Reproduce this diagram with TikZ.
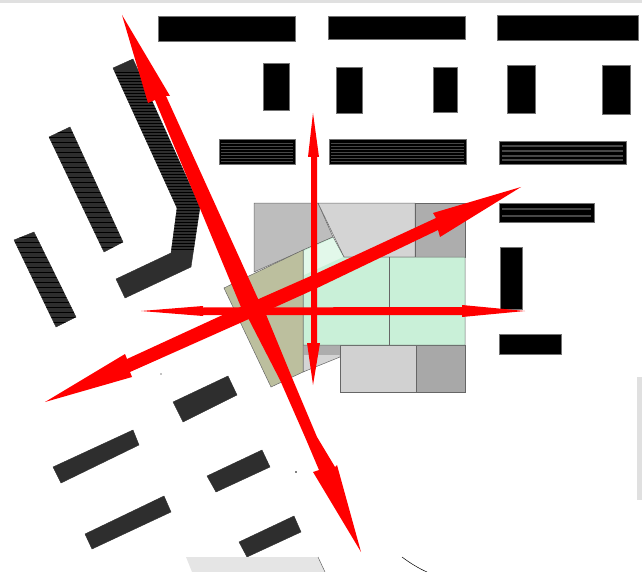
\documentclass[tikz,border=0pt]{standalone}
\usepackage{xcolor}
\definecolor{vert}{HTML}{C9F0D8}
\definecolor{vertclair}{HTML}{E2F8EA}
\definecolor{olive}{HTML}{BCBF9E}
\definecolor{sombre}{HTML}{2E2E2E}
\begin{document}
\begin{tikzpicture}[x=1pt, y=-1pt,
  bloc/.style   = {fill=black, draw=black!55, line width=0.6pt},
  barre/.style  = {fill=sombre, draw=sombre, line width=0.4pt},
  raie/.style   = {draw=black!72, line width=0.8pt},
  trait/.style  = {draw=black, line width=0.8pt},
  dalle/.style  = {draw=black!60, line width=0.5pt},
  fleche/.style = {fill=red}
]
\useasboundingbox (0,0) rectangle (642,572);

% --- bords de la capture ---
\fill[black!12] (0,0) rectangle (642,3);
\fill[black!12] (637,377) rectangle (642,500);

% --- blocs noirs, rangee haute ---
\draw[bloc] (158,16) rectangle (295,41);
\draw[bloc] (328,16) rectangle (465,39);
\draw[bloc] (497,15) rectangle (638,40);
\draw[bloc] (263,63) rectangle (289,110);
\draw[bloc] (336,67) rectangle (362,113);
\draw[bloc] (433,67) rectangle (457,112);
\draw[bloc] (507,65) rectangle (535,113);
\draw[bloc] (602,65) rectangle (630,114);

% --- blocs rayes ---
\draw[bloc] (219,139) rectangle (295,164);
\foreach \y in {143,146,...,161} { \draw[raie] (221,\y) -- (293,\y); }
\draw[bloc] (329,139) rectangle (466,164);
\foreach \y in {143,146,...,161} { \draw[raie] (331,\y) -- (464,\y); }
\draw[bloc] (499,141) rectangle (626,164);
\foreach \y in {146,151,156,160} { \draw[raie, line width=1.5pt] (502,\y) -- (623,\y); }
\draw[bloc] (499,203) rectangle (594,222);
\foreach \y in {209,216} { \draw[raie, line width=2.5pt] (502,\y) -- (591,\y); }

% --- blocs noirs a droite ---
\draw[bloc] (500,247) rectangle (522,309);
\draw[bloc] (499,334) rectangle (561,354);

% --- barres en biais a gauche ---
\fill[barre] (113,68) -- (133,59) -- (200,207) -- (191,267) -- (125,298)
  -- (116,279) -- (171,253) -- (177,208) -- cycle;
\begin{scope}
  \clip (113,68) -- (133,59) -- (200,207) -- (191,267) -- (171,253) -- (177,208) -- cycle;
  \foreach \y in {72,75,...,250} { \draw[trait] (105,\y) -- (205,\y); }
\end{scope}
\fill[barre] (49,137) -- (70,127) -- (123,242) -- (104,252) -- cycle;
\begin{scope}
  \clip (49,137) -- (70,127) -- (123,242) -- (104,252) -- cycle;
  \foreach \y in {132,137,...,247} { \draw[trait] (45,\y) -- (125,\y); }
\end{scope}
\fill[barre] (14,240) -- (34,232) -- (76,317) -- (56,327) -- cycle;
\begin{scope}
  \clip (14,240) -- (34,232) -- (76,317) -- (56,327) -- cycle;
  \foreach \y in {237,242,...,322} { \draw[trait] (10,\y) -- (80,\y); }
\end{scope}

% --- barres en biais en bas ---
\fill[barre] (173,402) -- (228,376) -- (237,395) -- (183,422) -- cycle;
\fill[barre] (53,467) -- (133,430) -- (139,445) -- (61,483) -- cycle;
\fill[barre] (207,476) -- (262,450) -- (270,467) -- (216,492) -- cycle;
\fill[barre] (85,534) -- (164,496) -- (171,512) -- (92,549) -- cycle;
\fill[barre] (239,542) -- (294,516) -- (301,532) -- (247,557) -- cycle;

% --- batiment central ---
\draw[dalle, fill=black!26] (254,203) -- (318,203) -- (333,237) -- (254,272) -- cycle;
\draw[dalle, fill=black!17] (318,203) -- (415,203) -- (415,257) -- (344,257) -- cycle;
\draw[dalle, fill=black!32] (415,203) rectangle (465,257);
\draw[dalle, fill=black!17] (303,372) -- (340,357) -- (340,345) -- (303,345) -- cycle;
\fill[black!32] (303,345) rectangle (340,355);
\draw[dalle, fill=black!18] (340,345) rectangle (416,392);
\draw[dalle, fill=black!34] (416,345) rectangle (465,392);
\draw[dalle, fill=vert] (303,250) -- (333,237) -- (344,257) -- (465,257)
  -- (465,345) -- (303,345) -- cycle;
\fill[vertclair] (304,251) -- (333,238) -- (343,257) -- (304,275) -- cycle;
\draw[dalle] (389,257) -- (389,345);
\draw[dalle, fill=olive] (224,288) -- (303,250) -- (303,372) -- (271,387) -- cycle;

% --- elements coupes en bas ---
\fill[black!10] (186,557) -- (318,557) -- (325,572) -- (192,572) -- cycle;
\draw[dalle] (318,557) -- (325,572);
\draw[black, line width=0.5pt] (402,557) .. controls (410,563) and (418,568) .. (427,572);
\fill[black] (161,374) circle (0.7);
\fill[black] (296,472) circle (0.9);

% --- fleches rouges ---
\fill[fleche] (122,15) -- (170,96) -- (166,96) -- (264,312) -- (243,312) -- (155,100)
  -- (148,103) -- cycle;
\fill[fleche] (245,312) -- (265,312) -- (293,380) -- (317,437) -- (335,467) -- (337,465) -- (361,552)
  -- (313,472) -- (319,470) -- (305,437) -- (280,380) -- cycle;
\fill[fleche] (45,402) -- (132,377) -- (130,372) -- (240,323) -- (313,290) -- (438,230)
  -- (440,237) -- (521,187) -- (433,213) -- (436,218) -- (313,275) -- (227,313)
  -- (127,359) -- (125,354) -- cycle;
\fill[fleche] (141,311) -- (203,306) -- (203,307.5) -- (462,307) -- (462,305) -- (525,311)
  -- (462,317) -- (462,315) -- (203,315) -- (203,316) -- cycle;
\fill[fleche] (313,113) -- (319,157) -- (317,157) -- (317,343) -- (320,343) -- (313,385)
  -- (307,343) -- (311,343) -- (311,157) -- (308,157) -- cycle;
\end{tikzpicture}
\end{document}
